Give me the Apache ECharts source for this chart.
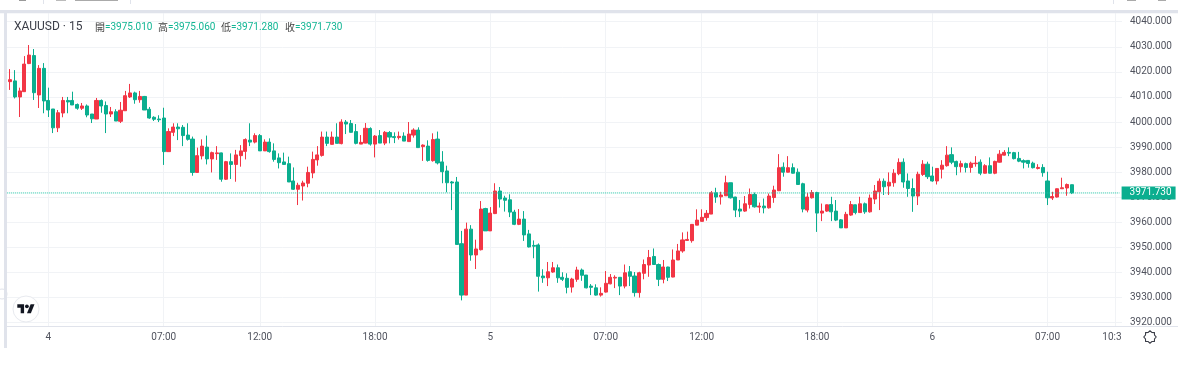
<!DOCTYPE html>
<html>
<head>
<meta charset="utf-8">
<style>html,body{margin:0;padding:0;background:#fff}#c{width:1194px;height:367px}</style>
<script src="https://cdn.jsdelivr.net/npm/echarts@6/dist/echarts.min.js"></script>
</head>
<body>
<div id="c"></div>
<script>
const symbolName = 'XAUUSD · 15';
const ohlcHeader = [['開', '=3975.010'], ['高', '=3975.060'], ['低', '=3971.280'], ['收', '=3971.730']];
const lastPrice = 3971.73;
const priceTicks = {min: 3920, max: 4040, step: 10};
const tickLabels = ['4', '07:00', '12:00', '18:00', '5', '07:00', '12:00', '18:00', '6', '07:00', '10:30'];
const tickBars = [9, 33, 53, 77, 101, 125, 145, 169, 193, 217, 231];
const axisBarCount = 233;

const opens = [
4017.0,4016.1,4016.4,4010.0,4012.1,4023.3,4026.5,4010.8,4021.4,4008.6,
4005.2,3997.7,4003.6,4008.6,4008.6,4007.0,4005.5,4006.4,4003.2,4001.2,
4008.6,4006.6,4003.2,4004.1,4000.3,4004.5,4010.0,4011.6,4008.9,4010.2,
4005.1,4001.9,4001.2,4001.6,3988.2,3995.9,3998.0,3997.9,3994.8,3993.2,
3979.9,3986.5,3990.0,3985.3,3987.4,3987.7,3977.2,3984.2,3983.1,3986.6,
3988.3,3992.8,3992.0,3994.6,3988.5,3992.0,3988.5,3985.7,3984.1,3983.4,
3976.5,3973.2,3974.5,3975.6,3979.7,3984.9,3986.7,3994.0,3991.1,3994.0,
3991.4,4000.0,3999.4,3996.2,3991.2,3991.6,3997.4,3991.2,3994.6,3991.6,
3995.8,3994.2,3993.8,3994.4,3992.2,3994.8,3996.8,3990.2,3990.4,3984.6,
3993.2,3984.1,3980.5,3976.1,3976.1,3951.5,3931.0,3957.3,3947.0,3949.1,
3965.5,3956.6,3963.5,3972.5,3969.7,3969.0,3964.1,3959.2,3961.3,3955.4,
3950.8,3951.0,3938.6,3937.9,3940.2,3941.9,3938.1,3937.7,3934.2,3937.3,
3941.0,3939.0,3934.6,3933.9,3931.0,3932.2,3935.5,3937.8,3938.1,3934.6,
3940.3,3938.6,3932.0,3939.7,3943.0,3946.4,3943.2,3937.3,3942.2,3938.2,
3945.0,3948.6,3952.8,3952.7,3958.9,3960.4,3961.9,3963.3,3971.8,3970.2,
3970.6,3975.8,3970.1,3965.3,3964.5,3967.1,3971.1,3966.1,3966.5,3965.8,
3969.9,3972.6,3982.0,3980.0,3981.8,3980.0,3975.4,3964.9,3969.8,3971.9,
3963.7,3964.5,3967.1,3964.5,3961.0,3957.8,3962.9,3967.0,3963.9,3967.4,
3964.2,3969.3,3972.2,3976.4,3974.5,3975.8,3979.4,3984.0,3976.5,3973.5,
3970.5,3979.1,3983.2,3978.5,3976.5,3981.2,3982.6,3987.0,3984.3,3982.2,
3983.4,3981.9,3983.4,3984.0,3979.6,3982.6,3979.6,3984.0,3986.8,3987.9,
3987.8,3985.5,3984.6,3984.7,3983.6,3981.5,3981.9,3976.5,3969.7,3970.1,
3973.4,3973.7,3975.01];

const closes = [
4016.2,4016.9,4010.0,4012.4,4023.1,4026.7,4011.7,4021.4,4008.4,4004.8,
3997.7,4003.7,4008.6,4008.0,4006.8,4005.5,4006.4,4002.8,4001.3,4008.6,
4006.4,4003.2,4004.1,4000.4,4004.7,4010.5,4011.6,4008.9,4010.2,4004.8,
4001.6,4001.1,4000.9,3988.2,3996.2,3998.0,3997.3,3994.6,3993.1,3979.9,
3986.6,3990.4,3985.3,3987.8,3987.7,3977.2,3984.2,3983.1,3986.9,3988.5,
3993.0,3992.0,3994.6,3988.5,3992.0,3988.2,3985.1,3983.8,3983.1,3976.1,
3973.2,3974.8,3975.7,3979.9,3985.1,3986.9,3994.0,3991.5,3994.0,3991.5,
4000.0,3999.2,3995.9,3991.5,3991.9,3997.5,3991.2,3994.4,3991.6,3995.9,
3994.0,3993.8,3994.3,3992.4,3995.2,3996.8,3989.8,3990.8,3984.7,3993.0,
3983.7,3980.2,3975.8,3975.7,3951.2,3931.0,3957.3,3947.0,3949.4,3965.3,
3956.6,3963.7,3972.5,3969.3,3968.8,3964.1,3959.2,3961.3,3955.0,3950.2,
3950.5,3938.5,3937.9,3940.3,3941.9,3937.9,3937.3,3934.1,3937.4,3941.0,
3938.9,3933.9,3934.1,3931.0,3931.7,3935.7,3938.1,3938.1,3934.6,3939.9,
3938.5,3932.0,3939.9,3943.2,3946.0,3943.2,3937.3,3942.2,3938.1,3945.0,
3948.6,3953.0,3953.2,3959.2,3960.9,3962.0,3963.6,3971.8,3970.1,3970.9,
3975.8,3969.8,3964.9,3964.5,3967.4,3971.1,3966.2,3966.5,3965.8,3970.5,
3972.9,3981.8,3980.0,3981.8,3979.6,3975.1,3965.3,3970.1,3971.9,3963.7,
3964.5,3967.0,3964.2,3960.9,3957.8,3963.2,3967.1,3963.9,3967.4,3964.2,
3969.7,3972.5,3976.4,3974.2,3976.0,3979.6,3983.9,3976.1,3973.5,3970.5,
3979.2,3983.2,3978.2,3976.5,3981.5,3982.8,3986.8,3984.0,3982.2,3983.4,
3981.9,3983.6,3983.6,3979.6,3982.6,3979.6,3984.3,3987.2,3987.9,3987.6,
3985.4,3984.4,3984.0,3983.5,3981.8,3981.9,3979.8,3969.8,3970.3,3973.4,
3973.8,3975.1,3971.73];

const lows = [
4016.0,4012.8,4009.4,4002.0,4012.1,4023.1,4008.8,4005.6,4003.5,4002.0,
3995.6,3996.0,4001.9,4003.5,4006.8,4004.9,4004.8,4001.9,3999.6,4001.2,
4003.7,3995.6,4002.0,4000.4,3999.6,4004.5,4009.6,4007.3,4007.7,4004.8,
4001.3,4000.4,4000.0,3982.9,3988.2,3994.4,3992.8,3990.4,3992.6,3978.6,
3979.9,3985.1,3983.1,3979.9,3984.9,3976.2,3976.9,3977.3,3976.2,3982.2,
3985.1,3990.4,3991.5,3988.5,3988.5,3987.8,3984.2,3981.5,3983.1,3976.1,
3972.9,3966.9,3968.7,3974.0,3977.6,3982.6,3986.2,3990.4,3991.0,3991.5,
3991.1,3995.2,3995.8,3991.1,3991.2,3991.5,3990.6,3985.9,3991.6,3990.8,
3991.5,3991.6,3993.0,3992.4,3992.2,3993.8,3989.8,3984.5,3984.2,3984.2,
3983.1,3975.6,3972.0,3964.9,3951.2,3928.9,3931.0,3944.7,3941.4,3948.8,
3956.6,3956.6,3963.3,3965.9,3964.3,3962.1,3958.9,3958.9,3952.6,3950.0,
3945.7,3932.4,3935.9,3934.6,3939.9,3935.9,3936.6,3931.7,3932.0,3936.3,
3936.7,3933.7,3931.0,3930.8,3930.4,3932.0,3935.3,3933.8,3931.0,3933.7,
3934.6,3930.4,3930.0,3937.3,3938.3,3943.2,3934.6,3935.7,3936.6,3938.1,
3945.0,3947.9,3952.7,3951.9,3958.9,3960.3,3960.7,3963.3,3967.8,3967.1,
3970.5,3969.5,3962.1,3962.1,3964.2,3965.5,3965.9,3963.8,3963.6,3965.5,
3967.8,3972.5,3978.2,3979.9,3979.5,3975.1,3964.0,3964.0,3969.5,3956.2,
3960.5,3964.2,3960.5,3960.5,3957.8,3957.8,3962.6,3963.2,3963.9,3963.4,
3963.9,3967.3,3964.9,3970.9,3970.9,3974.2,3978.8,3973.8,3970.2,3964.2,
3966.9,3978.5,3977.3,3976.2,3975.1,3977.5,3982.2,3983.2,3978.8,3979.9,
3979.9,3979.8,3982.2,3978.8,3979.5,3979.5,3979.2,3983.8,3986.7,3986.4,
3985.1,3984.0,3981.5,3981.8,3981.5,3981.1,3978.2,3966.9,3968.9,3969.9,
3973.3,3970.6,3971.28];

const highs = [
4017.7,4021.1,4020.7,4013.7,4026.3,4030.7,4029.1,4022.7,4023.5,4013.7,
4005.2,4004.8,4010.0,4010.0,4012.1,4007.4,4007.6,4007.0,4003.2,4009.6,
4009.0,4008.2,4006.0,4005.1,4008.0,4012.4,4015.2,4012.1,4012.4,4010.4,
4006.0,4002.3,4002.7,4005.7,3997.5,3999.5,3999.5,3998.8,3999.5,3994.2,
3989.8,3993.1,3994.6,3988.2,3990.4,3987.8,3984.5,3987.5,3988.9,3990.8,
3993.5,3999.5,3995.5,3995.2,3993.1,3993.5,3991.5,3987.5,3987.8,3986.2,
3981.9,3975.8,3976.6,3982.2,3988.2,3990.4,3996.2,3996.2,3996.2,3999.5,
4001.1,4000.8,4000.8,3999.2,3994.8,3999.6,3997.9,3994.8,3996.8,3996.4,
3996.4,3995.9,3996.2,3995.9,4000.0,3997.5,3997.9,3991.1,3992.7,3995.5,
3996.2,3988.4,3982.6,3976.5,3978.1,3956.6,3959.9,3958.9,3953.1,3968.5,
3965.8,3966.1,3975.6,3974.1,3970.6,3971.2,3965.0,3965.3,3964.5,3957.0,
3952.8,3951.6,3941.3,3944.2,3944.2,3943.2,3940.1,3939.7,3937.9,3942.3,
3941.6,3939.0,3935.4,3935.3,3934.1,3940.6,3939.4,3938.9,3938.1,3943.2,
3942.6,3940.2,3940.3,3945.2,3949.0,3949.6,3943.6,3945.0,3942.3,3949.2,
3951.4,3956.0,3956.3,3959.3,3965.2,3965.2,3964.9,3972.5,3973.8,3972.2,
3978.6,3975.8,3970.2,3968.9,3970.5,3973.5,3971.9,3967.9,3969.5,3971.5,
3974.6,3987.2,3983.9,3986.4,3983.5,3981.5,3975.8,3971.8,3972.9,3972.2,
3967.5,3967.1,3970.2,3968.9,3961.3,3964.2,3968.5,3967.1,3970.2,3967.9,
3971.1,3974.9,3977.5,3977.5,3979.9,3981.2,3985.5,3985.5,3979.5,3977.5,
3980.2,3984.8,3984.2,3982.2,3981.5,3984.8,3990.4,3989.9,3984.6,3984.6,
3983.8,3984.2,3986.4,3985.1,3983.2,3985.9,3984.6,3988.8,3988.8,3989.9,
3988.1,3988.1,3985.1,3984.8,3984.2,3983.2,3983.2,3980.2,3972.2,3973.5,
3977.8,3975.5,3975.06];

const UP = '#f23645', DOWN = '#0bae8f', TEAL = '#12b594', GRID = '#f1f3f6', FRAME = '#e0e3eb', INK = '#50535e';
const FONT = 'Roboto, "Noto Sans CJK SC", sans-serif';

const categories = [];
for (let i = 0; i < axisBarCount; i++) {
  const t = tickBars.indexOf(i);
  categories.push(t >= 0 ? tickLabels[t] : '');
}
const showTick = i => tickBars.indexOf(i) >= 0;
const candles = opens.map((o, i) => [o, closes[i], lows[i], highs[i]]);

const gearPts = [];
for (let i = 0; i < 16; i++) {
  const r = i % 2 ? 4.9 : 6.2, a = Math.PI * i / 8;
  gearPts.push([1150 + r * Math.cos(a), 337 + r * Math.sin(a)]);
}

const headerEls = [];
const headerX = [[95, 105], [158, 168], [221, 231], [285, 295]];
ohlcHeader.forEach((h, i) => {
  headerEls.push({type: 'text', z: 101, x: headerX[i][0], y: 27, style: {text: h[0], fill: '#444', font: '10px "Noto Sans CJK SC"', textVerticalAlign: 'middle'}});
  headerEls.push({type: 'text', z: 101, x: headerX[i][1], y: 27.5, style: {text: h[1], fill: TEAL, font: '10px ' + FONT, textVerticalAlign: 'middle'}});
});

const option = {
  animation: false,
  backgroundColor: '#fff',
  grid: [
    {left: 2.8, width: 1119.2, top: 21.7, height: 301, containLabel: false},
    {left: 2.8, width: 1119.2, top: 13.3, height: 313.2, containLabel: false}
  ],
  xAxis: [
    {type: 'category', gridIndex: 0, data: categories, show: false, boundaryGap: true},
    {type: 'category', gridIndex: 1, data: categories, boundaryGap: true,
     axisLine: {show: true, lineStyle: {color: FRAME, width: 1}},
     axisTick: {show: false},
     axisLabel: {interval: i => showTick(i), color: INK, fontSize: 10, fontFamily: FONT, margin: 6, hideOverlap: false},
     splitLine: {show: true, interval: i => showTick(i), alignWithLabel: true, lineStyle: {color: GRID, width: 1}}}
  ],
  yAxis: [
    {type: 'value', gridIndex: 0, position: 'right', min: priceTicks.min, max: priceTicks.max, interval: priceTicks.step,
     axisLine: {show: false}, axisTick: {show: false},
     axisLabel: {color: INK, fontSize: 10, fontFamily: FONT, margin: 8, padding: [2, 0, 0, 0], formatter: v => v.toFixed(3)},
     splitLine: {show: true, lineStyle: {color: GRID, width: 1}}},
    {type: 'value', gridIndex: 1, show: false, min: 0, max: 1, splitLine: {show: false}}
  ],
  series: [{
    type: 'candlestick', xAxisIndex: 0, yAxisIndex: 0, data: candles, barWidth: 3.6, z: 5,
    itemStyle: {color: UP, color0: DOWN, borderColor: UP, borderColor0: DOWN, borderWidth: 1}
  }, {
    type: 'line', xAxisIndex: 0, yAxisIndex: 0, z: 6, silent: true, showSymbol: false, symbol: 'none',
    data: [[0, lastPrice], [axisBarCount - 1, lastPrice]],
    lineStyle: {color: '#1fc4a5', type: 'dotted', width: 1},
    endLabel: {show: true, distance: 2, formatter: lastPrice.toFixed(3), color: '#fff', backgroundColor: DOWN,
               fontSize: 10, fontFamily: FONT, padding: [2, 4, 1, 8]}
  }],
  graphic: {elements: [
    {type: 'rect', z: 100, shape: {x: 0, y: 0, width: 4, height: 367}, style: {fill: '#fff'}},
    {type: 'circle', z: 100, shape: {cx: 2, cy: 294, r: 5}, style: {fill: '#fff', stroke: '#dfe2ea', lineWidth: 1}},
    {type: 'rect', z: 100, shape: {x: 4, y: 10, width: 3, height: 338}, style: {fill: FRAME}},
    {type: 'rect', z: 100, shape: {x: 0, y: 10, width: 1178, height: 3.3}, style: {fill: FRAME}},
    {type: 'rect', z: 100, shape: {x: 1122, y: 327.2, width: 72, height: 30}, style: {fill: '#fff'}},
    {type: 'rect', z: 100, shape: {x: 1122, y: 326, width: 56, height: 1}, style: {fill: FRAME}},
    {type: 'rect', z: 101, shape: {x: 43, y: 0, width: 1, height: 4}, style: {fill: '#e0e3eb'}},
    {type: 'rect', z: 101, shape: {x: 130, y: 0, width: 1, height: 4}, style: {fill: '#e0e3eb'}},
    {type: 'rect', z: 101, shape: {x: 1113, y: 0, width: 1, height: 4}, style: {fill: '#e0e3eb'}},
    {type: 'rect', z: 101, shape: {x: 19, y: 0, width: 7, height: 1}, style: {fill: '#999'}},
    {type: 'rect', z: 101, shape: {x: 56, y: 0, width: 10, height: 1}, style: {fill: '#bbb'}},
    {type: 'rect', z: 101, shape: {x: 75, y: 0, width: 43, height: 1}, style: {fill: '#aaa'}},
    {type: 'rect', z: 101, shape: {x: 1127, y: 0, width: 9, height: 1}, style: {fill: '#aaa'}},
    {type: 'rect', z: 101, shape: {x: 1158, y: 0, width: 8, height: 1}, style: {fill: '#aaa'}},
    {type: 'circle', z: 101, shape: {cx: 26, cy: 309, r: 13}, style: {fill: '#fff', stroke: '#e8eaef', lineWidth: 1}},
    {type: 'polygon', z: 102, shape: {points: [[24.08, 313.2], [20.69, 313.2], [20.69, 307.76], [17.3, 307.76], [17.3, 304.3], [24.08, 304.3]]}, style: {fill: '#131722'}},
    {type: 'polygon', z: 102, shape: {points: [[30.87, 313.2], [26.99, 313.2], [30.62, 304.3], [34.5, 304.3]]}, style: {fill: '#131722'}},
    {type: 'circle', z: 102, shape: {cx: 26.9, cy: 306.3, r: 1.9}, style: {fill: '#131722'}},
    {type: 'polygon', z: 102, shape: {points: gearPts}, style: {fill: '#fff', stroke: '#3a3d47', lineWidth: 1.1}},
    {type: 'text', z: 101, x: 14, y: 27, style: {text: symbolName, fill: '#3b3e48', font: '12px ' + FONT, textVerticalAlign: 'middle'}},
    ...headerEls
  ]}
};
const chart = echarts.init(document.getElementById('c'), null, {renderer: 'canvas'});
chart.setOption(option);
</script>
</body>
</html>
